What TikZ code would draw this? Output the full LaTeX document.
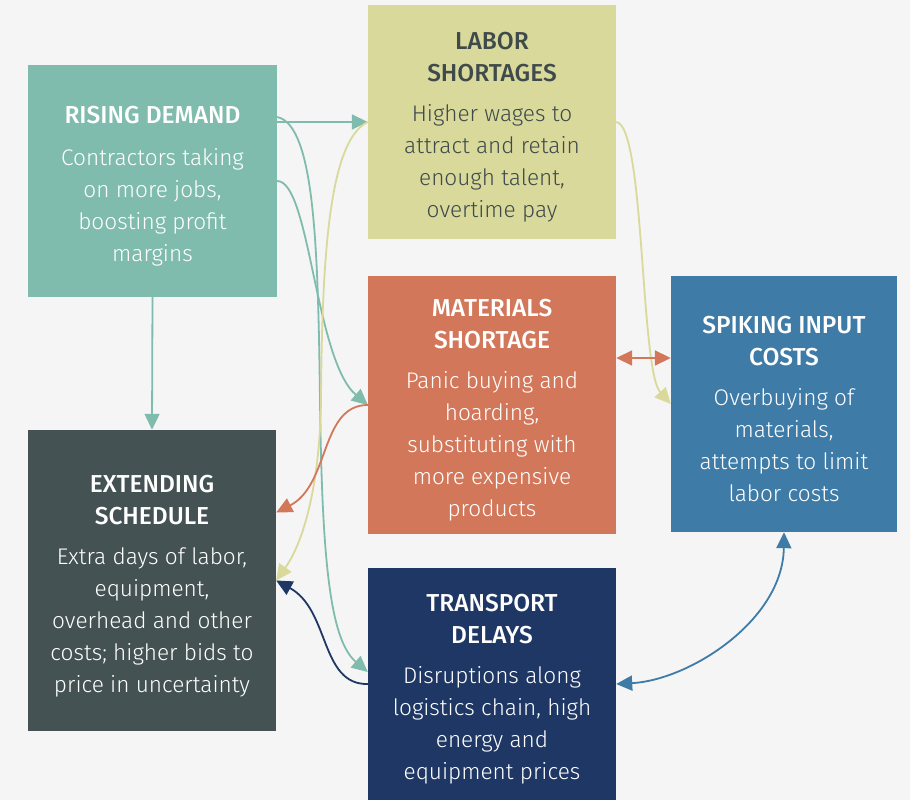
\documentclass[tikz,border=0pt]{standalone}
\usepackage{fontspec}
\setmainfont{Fira Sans Light}[BoldFont={Fira Sans Medium}]
\usetikzlibrary{arrows.meta}

\definecolor{bgGray}{HTML}{F5F5F5}
\definecolor{tealC}{HTML}{80BCAD}
\definecolor{sandC}{HTML}{D9D99B}
\definecolor{rustC}{HTML}{D3775A}
\definecolor{steelC}{HTML}{3E7BA7}
\definecolor{slateC}{HTML}{445253}
\definecolor{navyC}{HTML}{1E3764}
\definecolor{inkC}{HTML}{3F4A4B}

% heading line; the first one carries a strut to push the block down a bit
\newcommand{\hd}[1]{{\fontsize{24.5}{32}\selectfont\bfseries #1}}
\newcommand{\hdtop}[1]{\rule{0pt}{28pt}\hd{#1}}

\tikzset{
  box/.style={align=center, inner sep=0pt, text=white,
    font=\fontsize{22.6}{32}\selectfont},
  link/.style={line width=1.8pt, -{Triangle[length=16pt,width=15pt]}},
  both/.style={{Triangle[length=16pt,width=15pt]}-{Triangle[length=16pt,width=15pt]}},
}

\begin{document}
\begin{tikzpicture}[x=1pt, y=-1pt]
  \fill[bgGray] (0,0) rectangle (910,800);
  \useasboundingbox (0,0) rectangle (910,800);

  % the six boxes
  \node[box, fill=tealC, minimum width=249pt, minimum height=232pt] (rd) at (152.5,181)
    {\hdtop{RISING DEMAND}\\[10pt]Contractors taking\\on more jobs,\\boosting profit\\margins};
  \node[box, fill=sandC, text=inkC, minimum width=248pt, minimum height=234pt] (ls) at (492,122)
    {\hdtop{LABOR}\\\hd{SHORTAGES}\\[8pt]Higher wages to\\attract and retain\\enough talent,\\overtime pay};
  \node[box, fill=rustC, minimum width=248pt, minimum height=258pt] (ms) at (492,405)
    {\hdtop{MATERIALS}\\\hd{SHORTAGE}\\[8pt]Panic buying and\\hoarding,\\substituting with\\more expensive\\products};
  \node[box, fill=steelC, minimum width=226pt, minimum height=256pt] (sc) at (784,404)
    {\hdtop{SPIKING INPUT}\\\hd{COSTS}\\[8pt]Overbuying of\\materials,\\attempts to limit\\labor costs};
  \node[box, fill=slateC, minimum width=248pt, minimum height=301pt] (es) at (152,580.5)
    {\hdtop{EXTENDING}\\\hd{SCHEDULE}\\[8pt]Extra days of labor,\\equipment,\\overhead and other\\costs; higher bids to\\price in uncertainty};
  \node[box, fill=navyC, minimum width=248pt, minimum height=232pt] (td) at (492,684)
    {\hdtop{TRANSPORT}\\\hd{DELAYS}\\[8pt]Disruptions along\\logistics chain, high\\energy and\\equipment prices};

  % connectors
  \draw[link, tealC] ([yshift=59pt]rd.east) -- (ls.west);
  \draw[link, tealC] ([yshift=64pt]rd.east) .. controls (315,125) and (318,250) .. (320,400)
    .. controls (322,560) and (330,640) .. ([yshift=12pt]td.west);
  \draw[link, tealC] (rd.east) .. controls (310,181) and (315,360) .. (ms.west);
  \draw[link, tealC] (rd.south) -- (es.north);
  \draw[link, sandC] (ls.west) .. controls (330,140) and (322,250) .. (321,400)
    .. controls (320,480) and (305,540) .. (es.east);
  \draw[link, sandC] (ls.east) .. controls (645,125) and (640,370) .. (sc.west);
  \draw[link, both, rustC] ([yshift=47pt]ms.east) -- ([yshift=46pt]sc.west);
  \draw[link, rustC] (ms.west) .. controls (320,405) and (330,485) .. ([yshift=68pt]es.east);
  \draw[link, navyC] (td.west) .. controls (320,685) and (330,610) .. (es.east);
  \draw[link, both, steelC] (sc.south) .. controls (783,620) and (690,680) .. (td.east);
\end{tikzpicture}
\end{document}
